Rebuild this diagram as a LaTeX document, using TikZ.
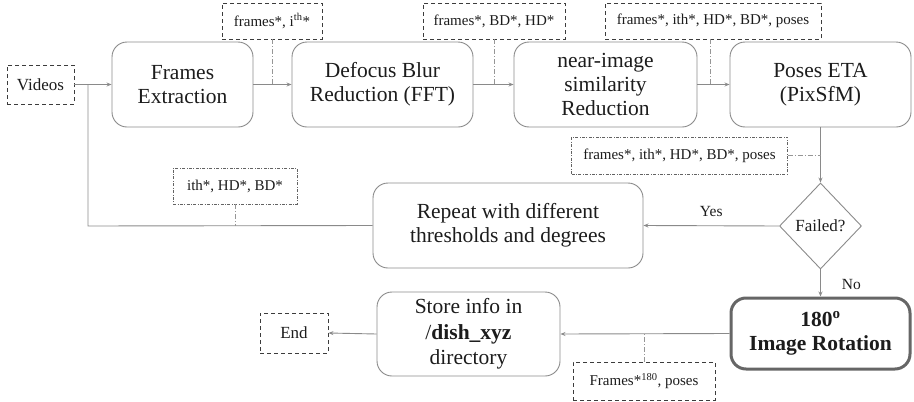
\documentclass[tikz,border=0pt]{standalone}
\usepackage{fontspec}
\setmainfont{Liberation Serif}
\usetikzlibrary{shapes.geometric,arrows.meta,calc}
\definecolor{lncol}{HTML}{8A8A8A}
\definecolor{txtcol}{HTML}{1C1C1C}
\definecolor{lblcol}{HTML}{3C3C3C}
\begin{document}
\begin{tikzpicture}[x=1pt,y=-1pt,
  every node/.style={text=txtcol, inner sep=0pt},
  procbox/.style={draw=lncol, line width=0.9pt, rounded corners=15pt, align=center,
    font=\fontsize{21.5}{24}\selectfont},
  termbox/.style={draw=lblcol, line width=0.9pt, dashed, dash pattern=on 4pt off 3pt,
    font=\fontsize{17}{20}\selectfont},
  lbldash/.style={draw=lblcol, line width=0.8pt, dash pattern=on 4pt off 3pt,
    font=\fontsize{15}{18}\selectfont},
  lbldot/.style={draw=lblcol!80, line width=0.7pt, dash pattern=on 3pt off 1.5pt on 0.8pt off 1.5pt,
    font=\fontsize{15}{18}\selectfont},
  flow/.style={draw=lncol, line width=0.9pt, -{Stealth[length=5pt,width=4pt]}},
  plain/.style={draw=lncol, line width=0.9pt},
  tie/.style={draw=lncol!90, line width=0.7pt, dash pattern=on 5pt off 2pt on 1pt off 2pt},
]
\useasboundingbox (0,0) rectangle (914,402);

% main row
\node[termbox, minimum width=67pt, minimum height=39pt] (videos) at (40.5,84.5) {Videos};
\node[procbox, minimum width=141pt, minimum height=85pt] (fe) at (182.5,84.5) {Frames\\Extraction};
\node[procbox, minimum width=181pt, minimum height=85pt] (dbr) at (382.5,84.5) {Defocus Blur\\Reduction (FFT)};
\node[procbox, minimum width=183pt, minimum height=85pt] (nis) at (605.5,84.5) {near-image\\similarity\\Reduction};
\node[procbox, minimum width=181pt, minimum height=85pt] (pose) at (820.5,84.5) {Poses ETA\\(PixSfM)};

% labels top
\node[lbldash, minimum width=100pt, minimum height=36pt] (l1) at (272,21) {frames*, i\textsuperscript{th}*};
\node[lbldash, minimum width=142pt, minimum height=36pt] (l2) at (494,21) {frames*, BD*, HD*};
\node[lbldash, minimum width=216pt, minimum height=36pt] (l3) at (713,21) {frames*, ith*, HD*, BD*, poses};

% middle
\node[lbldot, minimum width=216pt, minimum height=37pt] (l4) at (679.5,155.5) {frames*, ith*, HD*, BD*, poses};
\node[draw=lncol, line width=0.9pt, shape=diamond, minimum width=82pt, minimum height=86pt,
  font=\fontsize{17}{20}\selectfont] (failed) at (820.5,226) {Failed?};
\node[procbox, minimum width=270pt, minimum height=85pt] (repeat) at (508,225.5) {Repeat with different\\thresholds and degrees};
\node[lbldot, minimum width=124pt, minimum height=36pt] (l5) at (235,186) {ith*, HD*, BD*};

% bottom
\node[procbox, draw=black!60, line width=3pt, minimum width=179pt, minimum height=71pt,
  font=\fontsize{21.5}{24}\selectfont\bfseries] (rot) at (820.5,333.5) {180\textsuperscript{o}\\Image Rotation};
\node[procbox, minimum width=183pt, minimum height=84pt, font=\fontsize{21.5}{25.5}\selectfont] (store) at (468.5,334) {Store info in\\/\textbf{dish\_xyz}\\directory};
\node[termbox, minimum width=68pt, minimum height=40pt] (end) at (294,333) {End};
\node[lbldash, minimum width=142pt, minimum height=38pt] (l6) at (644,381) {Frames*\textsuperscript{180}, poses};

% connectors
\coordinate (j1) at (88,84.5);
\coordinate (j2) at (88,226);
\draw[flow] (videos.east) -- (fe.west);
\draw[flow] (fe.east) -- (dbr.west);
\draw[flow] (dbr.east) -- (nis.west);
\draw[flow] (nis.east) -- (pose.west);
\draw[flow] (pose.south) -- (failed.north);
\draw[flow] (failed.west) -- node[above=9pt, font=\fontsize{15.5}{18}\selectfont] {Yes} (repeat.east);
\draw[flow] (failed.south) -- node[right=21pt, font=\fontsize{15.5}{18}\selectfont, pos=0.55] {No} (rot.north);
\draw[flow] (rot.west) -- (store.east);
\draw[flow] (store.west) -- (end.east);
\draw[plain] (repeat.west) -- (j2) -- (j1);

% label ties
\draw[tie] (l1.south) -- (l1.south |- fe.east);
\draw[tie] (l2.south) -- (l2.south |- dbr.east);
\draw[tie] ([xshift=-3pt]l3.south) -- ([xshift=-3pt]l3.south |- nis.east);
\draw[tie] (l4.east) -- (l4.east -| pose.south);
\draw[tie] (l5.south) -- (l5.south |- repeat.west);
\draw[tie] (l6.north) -- (l6.north |- rot.west);
\end{tikzpicture}
\end{document}
